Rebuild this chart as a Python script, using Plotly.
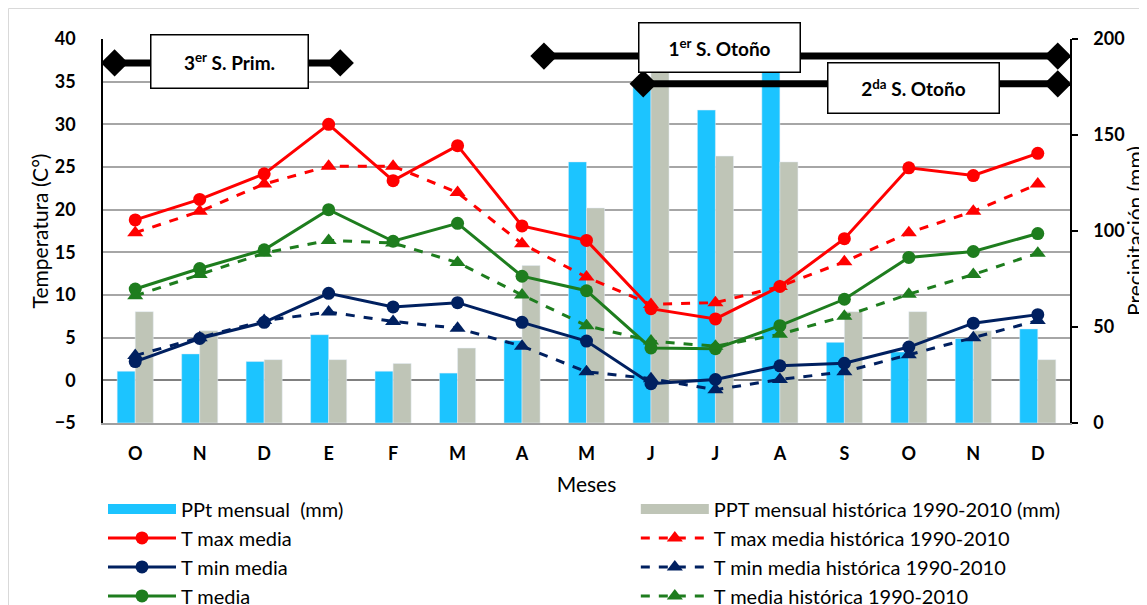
import plotly.graph_objects as go

# ---------------- data ----------------
months = ["O", "N", "D", "E", "F", "M", "A", "M", "J", "J", "A", "S", "O", "N", "D"]
ppt_mensual = [27, 36, 32, 46, 27, 26, 43, 136, 175, 163, 190, 42, 37, 44, 49]
ppt_historica = [58, 48, 33, 33, 31, 39, 82, 112, 195, 139, 136, 58, 58, 48, 33]

t_max = [18.8, 21.2, 24.2, 30.0, 23.4, 27.5, 18.1, 16.4, 8.4, 7.2, 11.0, 16.6, 24.9, 24.0, 26.6]
t_max_hist = [17.3, 19.8, 23.0, 25.1, 25.1, 22.0, 16.0, 12.1, 8.9, 9.1, 11.0, 13.9, 17.3, 19.8, 23.0]
t_min = [2.2, 4.9, 6.8, 10.2, 8.6, 9.1, 6.8, 4.6, -0.4, 0.1, 1.7, 2.0, 3.9, 6.7, 7.7]
t_min_hist = [2.9, 5.0, 7.0, 8.0, 6.9, 6.1, 4.0, 1.0, 0.2, -1.1, 0.1, 1.0, 3.0, 5.0, 7.0]
t_media = [10.7, 13.1, 15.3, 20.0, 16.3, 18.4, 12.2, 10.5, 3.8, 3.7, 6.4, 9.5, 14.4, 15.1, 17.2]
t_media_hist = [9.9, 12.4, 14.9, 16.4, 16.1, 13.8, 10.0, 6.4, 4.6, 4.0, 5.4, 7.5, 10.1, 12.4, 14.9]

season_labels = ["3<sup>er</sup> S. Prim.", "1<sup>er</sup> S. Otoño", "2<sup>da</sup> S. Otoño"]
season_start = [-0.32, 6.34, 7.88]
season_end = [3.18, 14.31, 14.31]
season_level = [37.2, 38.0, 34.75]

# label box placement (layout only)
label_x = [1.46, 9.06, 12.07]
label_y = [37.35, 38.96, 34.27]
label_w = [156, 160, 170]
label_h = [52, 48, 49]

x = list(range(len(months)))
FONT = "Lato"
BLUE = "#1CC4FF"
GREY = "#BFC5B7"
RED = "#FF0000"
NAVY = "#002060"
GREEN = "#1E7D1E"

W, H = 1139, 597          # page body adds an 8px offset
ML, MT, MR, MB = 95, 31, 77, 182

fig = go.Figure()

fig.add_trace(go.Bar(x=x, y=ppt_mensual, name="PPt mensual  (mm)", marker_color=BLUE,
                     yaxis="y", showlegend=False, legendgroup="ppt"))
fig.add_trace(go.Bar(x=x, y=ppt_historica, name="PPT mensual histórica 1990-2010 (mm)",
                     marker_color=GREY, yaxis="y", showlegend=False, legendgroup="ppth"))

# legend swatches for the bars (wide rectangle)
fig.add_trace(go.Scatter(x=[None], y=[None], mode="lines", name="PPt mensual  (mm)",
                         line=dict(color=BLUE, width=14), yaxis="y2", legend="legend",
                         legendgroup="ppt"))
fig.add_trace(go.Scatter(x=[None], y=[None], mode="lines", name="PPT mensual histórica 1990-2010 (mm)",
                         line=dict(color=GREY, width=14), yaxis="y2", legend="legend2",
                         legendgroup="ppth"))

def solid(vals, name, color):
    return go.Scatter(x=x, y=vals, name=name, mode="lines+markers", yaxis="y2",
                      line=dict(color=color, width=3),
                      marker=dict(symbol="circle", size=13, color=color), legend="legend")

def dashed(vals, name, color):
    return go.Scatter(x=x, y=vals, name=name, mode="lines+markers", yaxis="y2",
                      line=dict(color=color, width=3, dash="dash"),
                      marker=dict(symbol="triangle-up", size=14, color=color), legend="legend2")

fig.add_trace(solid(t_max, "T max media", RED))
fig.add_trace(dashed(t_max_hist, "T max media histórica 1990-2010", RED))
fig.add_trace(solid(t_min, "T min media", NAVY))
fig.add_trace(dashed(t_min_hist, "T min media histórica 1990-2010", NAVY))
fig.add_trace(solid(t_media, "T media", GREEN))
fig.add_trace(dashed(t_media_hist, "T media histórica 1990-2010", GREEN))

for s, e, lv in zip(season_start, season_end, season_level):
    fig.add_trace(go.Scatter(x=[s, e], y=[lv, lv], mode="lines+markers", yaxis="y2",
                             line=dict(color="black", width=7),
                             marker=dict(symbol="diamond", size=21, color="black"),
                             showlegend=False, hoverinfo="skip"))

for lab, lx, ly, w, h in zip(season_labels, label_x, label_y, label_w, label_h):
    fig.add_annotation(x=lx, y=ly, xref="x", yref="y2", text=f"<b>{lab}</b>", showarrow=False,
                       bgcolor="white", bordercolor="black", borderwidth=1.5, borderpad=0,
                       width=w, height=h, font=dict(family=FONT, size=19, color="black"))

pw = W - ML - MR
ph = H - MT - MB
fig.add_shape(type="rect", xref="paper", yref="paper",
              x0=-(ML - 0.5) / pw, x1=1.3, y0=-1, y1=1 + (MT - 0.5) / ph,
              line=dict(color="#D9D9D9", width=1), fillcolor="rgba(0,0,0,0)", layer="below")

fig.update_layout(
    width=W, height=H,
    margin=dict(l=ML, r=MR, t=MT, b=MB, autoexpand=False),
    paper_bgcolor="white", plot_bgcolor="white",
    barmode="group", bargap=0.44, bargroupgap=0,
    font=dict(family=FONT, color="black"),
    xaxis=dict(range=[-0.5, 14.5], tickmode="array", tickvals=x, ticktext=months,
               showgrid=False, zeroline=False, showline=True, linecolor="#A0A0A0", linewidth=1.5,
               ticks="", ticklabelstandoff=14,
               tickfont=dict(family=FONT, size=18, color="black", weight="bold"),
               title=dict(text="Meses", font=dict(family=FONT, size=21), standoff=14)),
    yaxis=dict(range=[0, 200], tickvals=[0, 50, 100, 150, 200], side="right",
               showgrid=False, zeroline=False, showline=True, linecolor="black", linewidth=1.5,
               ticks="outside", ticklen=6, tickcolor="black", tickwidth=1.5,
               ticklabelstandoff=12,
               tickfont=dict(family=FONT, size=18, color="black", weight="bold"),
               title=dict(text="Precipitación (mm)", font=dict(family=FONT, size=21), standoff=6)),
    yaxis2=dict(range=[-5, 40], tickvals=list(range(-5, 41, 5)), overlaying="y", side="left",
                showgrid=True, gridcolor="#A6A6A6", gridwidth=1.5,
                zeroline=True, zerolinecolor="#808080", zerolinewidth=2,
                showline=True, linecolor="black", linewidth=1.5, ticks="",
                ticklabelstandoff=22,
                tickfont=dict(family=FONT, size=18, color="black", weight="bold"),
                title=dict(text="Temperatura (C°)", font=dict(family=FONT, size=21), standoff=0)),
    legend=dict(x=0, xanchor="left", y=-0.173, yanchor="top", orientation="v",
                itemwidth=68, font=dict(family=FONT, size=20), tracegroupgap=0,
                bgcolor="rgba(0,0,0,0)"),
    legend2=dict(x=0.551, xanchor="left", y=-0.173, yanchor="top", orientation="v",
                 itemwidth=68, font=dict(family=FONT, size=20), tracegroupgap=0,
                 bgcolor="rgba(0,0,0,0)"),
)

fig.write_html("out.html")
